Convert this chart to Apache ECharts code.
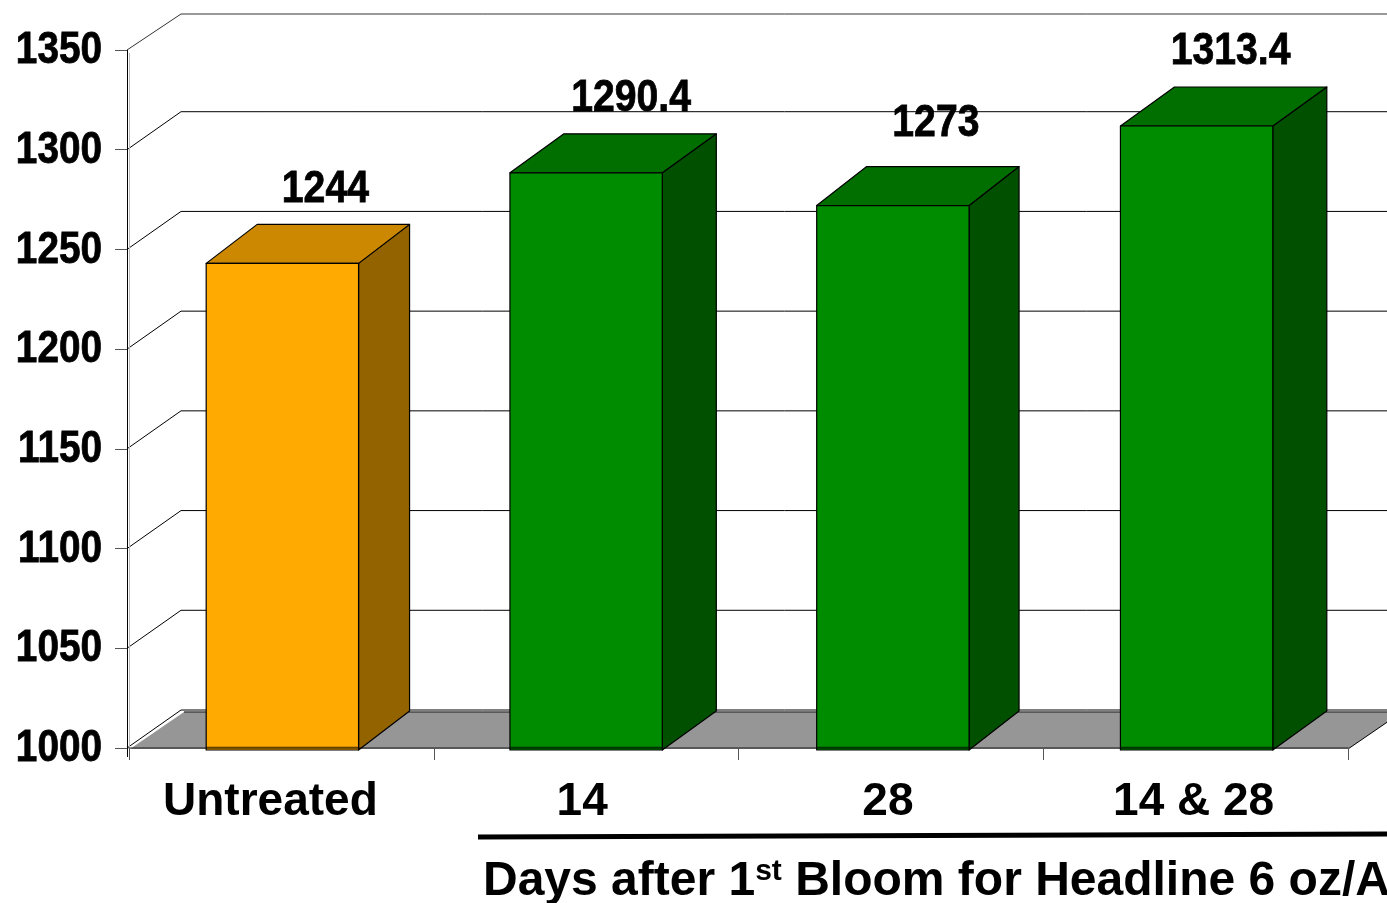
<!DOCTYPE html>
<html>
<head>
<meta charset="utf-8">
<title>Chart</title>
<script src="https://cdn.jsdelivr.net/npm/echarts@6/dist/echarts.min.js"></script>
<style>
  html, body { margin: 0; padding: 0; background: #fff; }
  #main { width: 1387px; height: 903px; }
</style>
</head>
<body>
<div id="main"></div>
<script>
var categories = ['Untreated', '14', '28', '14 & 28'];
var yields = [1244, 1290.4, 1273, 1313.4];
var yTicks = [1000, 1050, 1100, 1150, 1200, 1250, 1300, 1350];
var axisTitle = 'Days after 1';
var axisTitleSup = 'st';
var axisTitleEnd = ' Bloom for Headline 6 oz/A';

// layout, in pixels
var barDx = [1, 0, 2, 1];
var barDy = [2, 4, 2, 3];
var barDepth = [51, 54, 50, 54];
var labelDx = [44, 45, 45, 35];
var labelDy = [-72, -70, -80, -71];
var catLabelPad = [22, 8, 6, 4];
var wallDx = 54, wallDy = 38;

var FONT = '"Liberation Sans", Arial, sans-serif';
var orange = { front: '#FFAA00', top: '#CC8800', side: '#936300' };
var green = { front: '#008C00', top: '#006F00', side: '#005000' };
var barColors = [orange, green, green, green];

var myChart = echarts.init(document.getElementById('main'));

function renderWall(params, api) {
  var val = api.value(1);
  var y = api.coord([0, val])[1];
  var x0 = params.coordSys.x - 2;
  var dy = val === 1350 ? wallDy - 2 : wallDy;
  return {
    type: 'polyline',
    silent: true,
    shape: { points: [[x0, y], [x0 + wallDx, y - dy], [1400, y - dy]] },
    style: { fill: null, stroke: val === 1350 ? '#333' : '#000', lineWidth: 1 }
  };
}

function renderFloor(params, api) {
  var cs = params.coordSys;
  var y = api.coord([0, 1000])[1];
  var x0 = cs.x + 1, x1 = cs.x + cs.width;
  return {
    type: 'group',
    children: [{
      type: 'polygon',
      shape: { points: [[x0, y + 1], [x1, y + 1], [x1 + wallDx, y - wallDy + 2], [x0 + wallDx, y - wallDy + 2]] },
      style: { fill: '#969696', stroke: null }
    }, {
      type: 'polyline',
      shape: { points: [[x0 + wallDx, y - wallDy + 2], [1400, y - wallDy + 2]] },
      style: { fill: null, stroke: '#444', lineWidth: 1.5 }
    }, {
      type: 'polyline',
      shape: { points: [[x1, y + 1], [x1 + wallDx, y - wallDy + 2]] },
      style: { fill: null, stroke: '#000', lineWidth: 1 }
    }, {
      // pale second line beside the value axis
      type: 'line',
      shape: { x1: cs.x + 0.5, y1: cs.y + 3, x2: cs.x + 0.5, y2: y + 9 },
      style: { stroke: '#bbb', lineWidth: 1 }
    }, {
      type: 'line',
      shape: { x1: cs.x - 1.5, y1: y, x2: cs.x - 1.5, y2: y + 9 },
      style: { stroke: '#000', lineWidth: 1 }
    }]
  };
}

function renderBar(params, api) {
  var i = api.value(0);
  var val = api.value(1);
  var c = barColors[i];
  var center = api.coord([i, val]);
  var base = api.coord([i, 1000])[1] + 2;
  var w = api.size([1, 0])[0] / 2;
  var left = center[0] - w / 2 + barDx[i];
  var right = left + w;
  var top = center[1] + barDy[i];
  var d = barDepth[i];
  var border = { stroke: '#000', lineWidth: 1.2, lineJoin: 'round' };
  return {
    type: 'group',
    children: [{
      type: 'polygon',
      shape: { points: [[right, top], [right + d, top - 39], [right + d, base - 39], [right, base]] },
      style: echarts.util.extend({ fill: c.side }, border)
    }, {
      type: 'polygon',
      shape: { points: [[left, top], [left + d, top - 39], [right + d, top - 39], [right, top]] },
      style: echarts.util.extend({ fill: c.top }, border)
    }, {
      type: 'rect',
      shape: { x: left, y: top, width: w, height: base - top },
      style: echarts.util.extend({ fill: c.front }, border)
    }, {
      // floor front edge shows through the bar
      type: 'line',
      shape: { x1: left, y1: base - 2.5, x2: right, y2: base - 2.5 },
      style: { stroke: 'rgba(0,0,0,0.35)', lineWidth: 2 }
    }, {
      type: 'text',
      x: center[0] + labelDx[i],
      y: center[1] + labelDy[i],
      scaleX: 0.89,
      style: {
        text: String(val),
        font: 'bold 44px ' + FONT,
        fill: '#000',
        stroke: '#000',
        lineWidth: 0.8,
        textAlign: 'center',
        textVerticalAlign: 'middle'
      }
    }]
  };
}

function renderTickLabel(params, api) {
  var val = api.value(1);
  var y = api.coord([0, val])[1];
  return {
    type: 'text',
    x: params.coordSys.x - 27,
    y: y + 1,
    scaleX: 0.88,
    style: {
      text: String(val),
      font: 'bold 44px ' + FONT,
      fill: '#000',
      stroke: '#000',
      lineWidth: 0.8,
      textAlign: 'right',
      textVerticalAlign: 'middle'
    }
  };
}

var option = {
  animation: false,
  backgroundColor: '#ffffff',
  grid: { left: 129, right: 39, top: 50, bottom: 155 },
  xAxis: {
    type: 'category',
    data: categories.map(function (name, i) {
      return { value: name, textStyle: { padding: [0, catLabelPad[i], 0, 0] } };
    }),
    axisLine: { show: true, lineStyle: { color: 'rgba(0,0,0,0.55)', width: 1.5 } },
    axisTick: { show: true, length: 12, lineStyle: { color: '#555', width: 1 } },
    axisLabel: {
      margin: 31,
      color: '#000',
      fontFamily: FONT,
      fontWeight: 'bold',
      fontSize: 46
    },
    z: 5
  },
  yAxis: {
    type: 'value',
    min: 1000,
    max: 1350,
    interval: 50,
    offset: 2,
    axisLine: { show: true, lineStyle: { color: '#000', width: 1 } },
    axisTick: { show: true, length: 12, lineStyle: { color: '#555', width: 1 } },
    axisLabel: { show: false },
    splitLine: { show: false }
  },
  graphic: [{
    type: 'line',
    silent: true,
    shape: { x1: 478, y1: 837, x2: 1387, y2: 834 },
    style: { stroke: '#000', lineWidth: 5 }
  }, {
    type: 'text',
    silent: true,
    x: 483,
    y: 857,
    style: {
      text: '{a|' + axisTitle + '}{s|' + axisTitleSup + '}{a|' + axisTitleEnd + '}',
      rich: {
        a: { font: 'bold 48px ' + FONT, fill: '#000', lineHeight: 50 },
        s: { font: 'bold 30px ' + FONT, fill: '#000', lineHeight: 50, verticalAlign: 'top' }
      }
    }
  }],
  series: [{
    type: 'custom',
    renderItem: renderWall,
    data: yTicks.map(function (t) { return [0, t]; }),
    z: 1
  }, {
    type: 'custom',
    renderItem: renderFloor,
    data: [[0, 1000]],
    z: 2
  }, {
    type: 'custom',
    renderItem: renderBar,
    data: yields.map(function (v, i) { return [i, v]; }),
    z: 3
  }, {
    type: 'custom',
    renderItem: renderTickLabel,
    data: yTicks.map(function (t) { return [0, t]; }),
    z: 4
  }]
};

myChart.setOption(option);
</script>
</body>
</html>
